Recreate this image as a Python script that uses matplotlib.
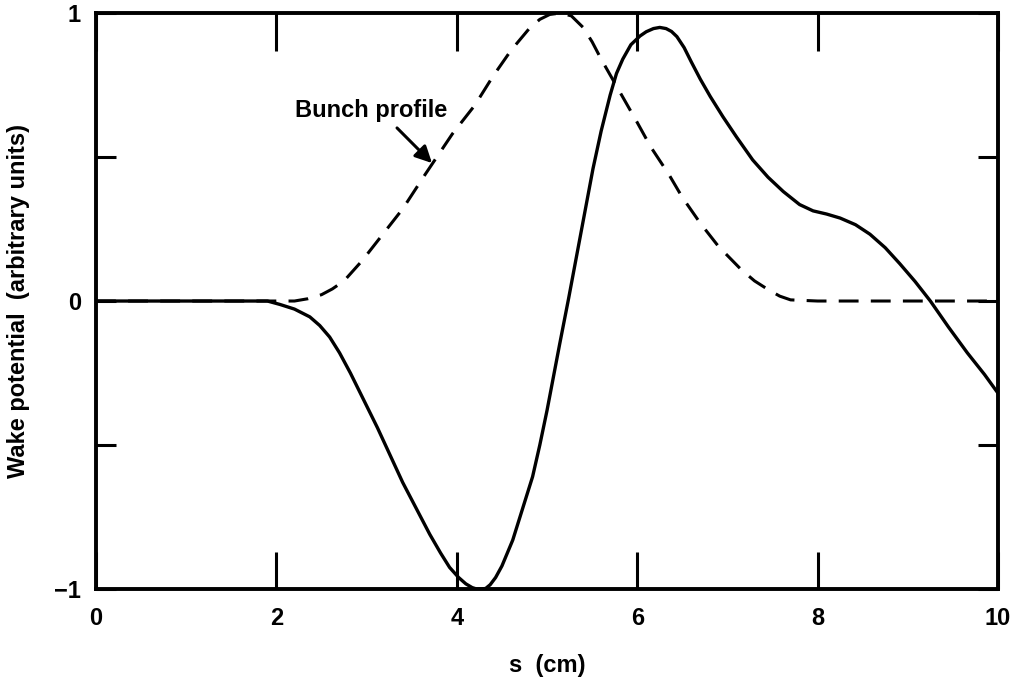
import matplotlib
matplotlib.use("Agg")
import matplotlib.pyplot as plt

plt.rcParams['font.family'] = ['Liberation Sans', 'DejaVu Sans']

# wake potential (solid)
wake_s = [0.0, 1.9, 2.04, 2.2, 2.37, 2.48, 2.59, 2.70, 2.82, 2.97, 3.12, 3.26, 3.40, 3.55,
          3.70, 3.82, 3.92, 4.02, 4.10, 4.17, 4.22, 4.27, 4.32, 4.37, 4.43, 4.50, 4.56,
          4.62, 4.70, 4.78, 4.84, 4.92, 5.00, 5.07, 5.14, 5.24, 5.33, 5.42, 5.51, 5.60,
          5.70, 5.77, 5.84, 5.93, 6.03, 6.10, 6.18, 6.25, 6.32, 6.38, 6.44, 6.52, 6.60,
          6.70, 6.81, 6.95, 7.10, 7.28, 7.45, 7.62, 7.80, 7.95, 8.10, 8.25, 8.42, 8.58,
          8.75, 8.91, 9.08, 9.25, 9.45, 9.66, 9.85, 10.0]
wake_v = [0.0, 0.0, -0.012, -0.028, -0.055, -0.085, -0.125, -0.18, -0.25, -0.345, -0.44,
          -0.535, -0.63, -0.72, -0.81, -0.875, -0.925, -0.96, -0.982, -0.995, -1.0, -1.0,
          -0.998, -0.985, -0.96, -0.92, -0.875, -0.83, -0.75, -0.67, -0.61, -0.50, -0.38,
          -0.265, -0.15, 0.01, 0.16, 0.31, 0.46, 0.59, 0.715, 0.79, 0.84, 0.89, 0.92, 0.935,
          0.946, 0.95, 0.946, 0.936, 0.918, 0.88, 0.83, 0.77, 0.71, 0.64, 0.57, 0.49, 0.43,
          0.38, 0.335, 0.313, 0.302, 0.288, 0.265, 0.232, 0.185, 0.13, 0.068, 0.0, -0.09,
          -0.18, -0.255, -0.32]

# bunch profile (dashed)
bunch_s = [0.0, 2.0, 2.2, 2.35, 2.5, 2.62, 2.75, 2.95, 3.15, 3.4, 3.65, 3.95, 4.2, 4.4,
           4.6, 4.8, 4.92, 5.03, 5.15, 5.27, 5.4, 5.5, 5.6, 5.8, 6.0, 6.15, 6.35, 6.5,
           6.7, 6.9, 7.15, 7.3, 7.45, 7.58, 7.7, 8.0, 10.0]
bunch_v = [0.0, 0.0, 0.0, 0.008, 0.022, 0.042, 0.07, 0.14, 0.22, 0.32, 0.44, 0.58, 0.68,
           0.78, 0.87, 0.945, 0.978, 0.995, 1.0, 0.99, 0.95, 0.90, 0.84, 0.73, 0.62, 0.535,
           0.44, 0.36, 0.27, 0.19, 0.11, 0.07, 0.04, 0.017, 0.004, 0.0, 0.0]

xticks = [0, 2, 4, 6, 8, 10]
yticks = [-1, -0.5, 0, 0.5, 1]
ylabels = ['\u22121', '', '0', '', '1']

fig = plt.figure(figsize=(10.13, 6.89), dpi=100)
ax = fig.add_axes([0.0948, 0.1451, 0.8904, 0.8360])

ax.plot(bunch_s, bunch_v, color='black', lw=2.2, dashes=(6.5, 4), solid_capstyle='butt')
ax.plot(wake_s, wake_v, color='black', lw=2.4)

ax.set_xlim(0, 10)
ax.set_ylim(-1, 1)
ax.set_xticks(xticks)
ax.set_yticks(yticks)
ax.set_yticklabels(ylabels)

for sp in ax.spines.values():
    sp.set_linewidth(2.8)

ax.tick_params(axis='x', direction='in', length=27, width=2.2, top=True,
               labelsize=17, pad=13)
ax.tick_params(axis='y', direction='in', length=14.5, width=2.2, right=True,
               labelsize=17, pad=11)
for lab in ax.get_xticklabels() + ax.get_yticklabels():
    lab.set_fontweight('bold')

ax.set_xlabel('s  (cm)', fontsize=17, fontweight='bold', labelpad=17)
ax.set_ylabel('Wake potential  (arbitrary units)', fontsize=17, fontweight='bold',
              labelpad=17)

ax.text(2.206, 0.639, 'Bunch profile', fontsize=17, fontweight='bold',
        ha='left', va='baseline')
ax.annotate('', xy=(3.725, 0.479), xytext=(3.337, 0.601),
            arrowprops=dict(arrowstyle='-|>,head_length=1.0,head_width=0.5',
                            color='black', lw=2.2, shrinkA=0, shrinkB=0))

fig.savefig('out.png', dpi=100)
